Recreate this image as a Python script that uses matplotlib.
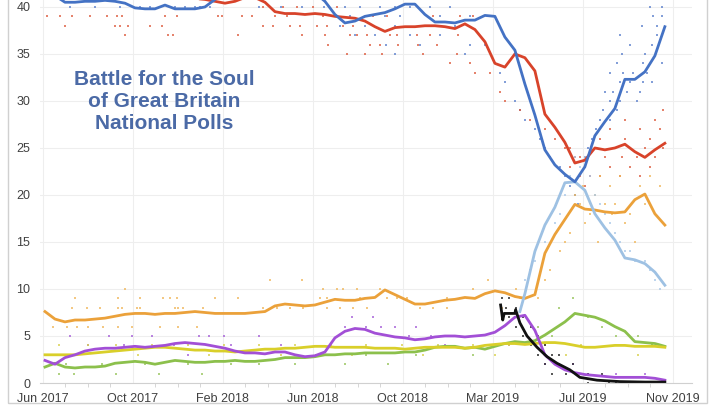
import numpy as np
import matplotlib
matplotlib.use("Agg")
import matplotlib.pyplot as plt
from matplotlib.patches import Rectangle

# fortnightly rolling averages, day 0 = 8 Jun 2017
days = np.arange(63) * 14

con = [42.5, 41.2, 40.5, 40.5, 40.6, 40.6, 40.7, 40.6, 40.4, 39.9,
       39.8, 39.8, 40.2, 39.8, 39.8, 39.8, 40.0, 40.8, 41.5, 42.0,
       42.2, 42.0, 42.3, 42.0, 42.0, 42.2, 42.0, 41.5, 40.6, 39.2,
       38.3, 38.5, 39.0, 39.2, 39.4, 39.8, 40.3, 40.3, 39.2, 38.4,
       38.4, 38.3, 38.6, 38.6, 39.1, 39.0, 36.8, 35.4, 31.8, 28.5,
       24.8, 23.2, 22.2, 21.4, 23.0, 26.3, 27.8, 29.2, 32.3, 32.3,
       33.1, 34.8, 37.9]
lab = [42.5, 42.0, 41.8, 41.5, 41.5, 41.3, 41.3, 41.5, 41.3, 41.2,
       41.0, 41.0, 41.2, 41.0, 41.0, 40.9, 40.8, 40.6, 40.4, 40.6,
       41.0, 41.0, 40.5, 39.5, 39.3, 39.3, 39.2, 39.3, 39.2, 39.0,
       38.9, 38.8, 38.5, 37.9, 37.4, 37.8, 37.9, 37.9, 38.0, 38.0,
       37.9, 37.7, 38.2, 37.6, 36.3, 34.0, 33.6, 35.0, 34.6, 33.2,
       28.6, 27.2, 25.6, 23.4, 23.7, 25.0, 24.8, 25.0, 25.4, 24.6,
       24.0, 24.8, 25.5]
ld = [7.6, 6.8, 6.5, 6.7, 6.7, 6.8, 6.9, 7.1, 7.3, 7.4,
      7.4, 7.3, 7.4, 7.4, 7.5, 7.6, 7.5, 7.4, 7.4, 7.4,
      7.4, 7.5, 7.6, 8.2, 8.4, 8.3, 8.2, 8.3, 8.6, 8.9,
      8.8, 8.8, 9.0, 9.1, 9.9, 9.4, 8.9, 8.4, 8.4, 8.6,
      8.8, 8.9, 9.1, 9.0, 9.5, 9.8, 9.6, 9.2, 9.0, 9.4,
      13.8, 15.8, 17.4, 19.0, 18.5, 18.4, 18.2, 18.1, 18.2, 19.5,
      20.1, 18.0, 16.8]
ukip = [2.4, 2.0, 2.7, 3.0, 3.4, 3.6, 3.7, 3.7, 3.8, 3.9,
        3.8, 3.9, 4.0, 4.2, 4.3, 4.2, 4.1, 3.9, 3.7, 3.4,
        3.2, 3.2, 3.1, 3.3, 3.3, 3.0, 2.8, 2.9, 3.3, 4.8,
        5.5, 5.8, 5.7, 5.3, 5.1, 4.9, 4.8, 4.6, 4.7, 4.9,
        5.0, 5.0, 4.9, 5.0, 5.1, 5.4, 6.1, 7.0, 7.2, 5.6,
        3.0, 2.0, 1.4, 1.1, 0.9, 0.8, 0.7, 0.6, 0.6, 0.6,
        0.6, 0.5, 0.3]
snp = [3.0, 3.0, 3.0, 3.0, 3.1, 3.2, 3.3, 3.4, 3.5, 3.6,
       3.7, 3.8, 3.8, 3.7, 3.6, 3.5, 3.5, 3.4, 3.4, 3.3,
       3.4, 3.5, 3.6, 3.6, 3.7, 3.7, 3.8, 3.9, 3.9, 3.8,
       3.8, 3.8, 3.8, 3.7, 3.7, 3.7, 3.6, 3.7, 3.8, 3.8,
       3.8, 3.8, 3.7, 3.8, 4.0, 4.1, 4.2, 4.2, 4.1, 4.2,
       4.3, 4.3, 4.2, 4.0, 3.8, 3.8, 3.9, 4.0, 4.0, 3.9,
       3.9, 3.9, 3.8]
grn = [1.7, 2.1, 1.7, 1.6, 1.7, 1.7, 1.8, 2.1, 2.2, 2.3,
       2.2, 2.0, 2.2, 2.4, 2.3, 2.2, 2.2, 2.3, 2.3, 2.4,
       2.3, 2.3, 2.4, 2.5, 2.7, 2.7, 2.7, 2.8, 3.0, 3.0,
       3.1, 3.1, 3.2, 3.2, 3.2, 3.2, 3.3, 3.3, 3.5, 3.8,
       3.9, 3.9, 3.7, 3.8, 3.6, 3.9, 4.2, 4.4, 4.3, 4.5,
       5.1, 5.8, 6.5, 7.4, 7.2, 7.0, 6.6, 6.0, 5.5, 4.4,
       4.3, 4.2, 3.9]

bxp_days = [665, 672, 686, 700, 714, 728, 742, 756, 770, 784, 798, 812, 826, 840, 854, 868]
bxp = [7.6, 9.5, 14.0, 16.8, 18.7, 21.3, 21.4, 20.5, 18.0, 16.5, 15.2, 13.3, 13.1, 12.7, 11.8, 10.4]

chuk_days = [638, 641, 643, 658, 659, 665, 675, 689, 703, 717, 735, 749, 773, 805, 840, 868]
chuk = [8.3, 6.7, 7.4, 7.4, 7.8, 6.4, 5.0, 3.8, 2.8, 2.1, 1.4, 0.6, 0.3, 0.15, 0.1, 0.1]

# individual polls (approximate)
con_pd = [35, 70, 105, 133, 147, 161, 182, 196, 210, 217, 231, 300, 330, 360, 390,
          420, 441, 469, 490, 511, 539, 567, 427, 476, 497, 553, 595, 413, 448, 490, 525, 574,
          434, 462, 511, 553, 477, 525, 595, 490, 588,
          616, 630, 644, 637, 658, 665, 672, 686, 693, 700, 707, 721, 728, 735, 742, 746,
          756, 760, 766, 771, 777, 791, 781, 801, 791, 805, 829, 784, 795, 815, 833,
          805, 819, 837, 850, 791, 809, 823, 843, 801, 837, 864, 808, 840, 819, 850,
          805, 857, 836, 857, 851, 864, 847, 864]
con_pv = [40] * 15 + [40] * 7 + [39] * 5 + [38] * 5 + [37] * 4 + [36] * 3 + [35] * 2 + \
         [36, 34, 32, 33, 30, 29, 28, 27, 26, 25, 24, 23, 22, 21, 20, 19,
          24, 25, 26, 27, 28, 28, 29, 29, 30, 30, 30, 31, 31, 31, 31,
          32, 32, 32, 32, 33, 33, 33, 33, 34, 34, 34, 35, 35, 36, 36,
          37, 37, 38, 38, 39, 39, 40, 40]
lab_pd = [3, 21, 38, 63, 87, 101, 108, 168, 185, 242, 248, 276, 290,
          28, 98, 105, 116, 147, 164, 112, 172, 179, 270,
          305, 333, 353, 375, 409,
          322, 339, 389, 451, 459, 479, 535, 543, 581, 599,
          305, 319, 343, 357, 381, 395, 417, 431,
          360, 392, 427, 437, 451, 483, 493, 521, 539, 578,
          396, 455, 469, 494, 522, 549, 423, 448, 472, 529, 577, 567, 595,
          602, 623, 637, 644, 665, 679, 700, 714, 728, 735, 742, 749, 735, 756,
          749, 763, 777, 756,
          791, 833, 861, 777, 812, 847, 770, 798, 819, 840, 865,
          784, 808, 829, 854, 791, 819, 847, 805, 833, 812, 854, 865]
lab_pv = [39] * 13 + [38] * 6 + [37] * 4 + [40] * 5 + [39] * 10 + [38] * 8 + [37] * 10 + \
         [36] * 6 + [35] * 5 + [34] * 2 + \
         [33, 33, 31, 30, 29, 28, 27, 26, 25, 25, 24, 24, 23, 23,
          22, 22, 22, 21,
          27, 27, 27, 26, 26, 26, 25, 25, 25, 25, 25,
          24, 24, 24, 24, 23, 23, 23, 22, 22, 28, 28, 29]
ld_pd = [112, 42, 102, 133, 165, 175, 185, 238, 270,
         38, 59, 77, 102, 108, 129, 133, 182, 186, 193, 221,
         11, 31, 45, 60, 81, 102, 122, 161, 186, 213,
         315, 360, 389, 409, 417, 437, 469,
         385, 395, 441, 459, 479, 493, 507, 563, 581,
         305, 325, 343, 361, 395, 413, 431, 451, 525, 543, 563,
         600, 620, 640, 660, 690,
         707, 700, 721, 728, 735, 742, 749, 753, 756, 763, 770, 774, 777, 784,
         791, 794, 798, 805, 812, 819, 826, 833, 840, 847, 854, 861]
ld_pv = [10] + [9] * 8 + [8] * 11 + [6] * 10 + [11, 11, 10, 10, 10, 10, 10] + [9] * 9 + [8] * 11 + \
        [10, 11, 8, 10, 9] + \
        [12, 11, 14, 15, 16, 20, 19, 21, 17, 18, 20, 15, 22, 19,
         21, 18, 19, 22, 17, 18, 15, 21, 19, 22, 18, 21]
bxp_pd = [742, 756, 749, 735, 763, 728, 770, 777, 721, 784, 714, 791,
          798, 700, 805, 812, 819, 686, 826, 840, 679, 847, 672, 854, 861, 665]
bxp_pv = [24, 24, 23, 22, 22, 20, 20, 19, 18, 18, 17, 17,
          16, 15, 15, 14, 14, 13, 13, 13, 12, 12, 11, 11, 10, 9]
ukip_pd = [35, 90, 122, 150, 215, 230, 250, 300, 60, 110, 180, 260, 330, 20, 200, 350, 380,
           420, 450, 470, 490, 520, 430, 460, 640, 510, 540, 580, 600, 560, 620, 650,
           760, 800, 840, 700, 740]
ukip_pv = [5] * 8 + [4] * 5 + [3] * 4 + [6] * 5 + [7] * 3 + [5] * 4 + [4] * 3 + [1] * 3 + [2] * 2
snp_pd = [20, 60, 100, 150, 200, 250, 300, 350, 400, 450, 500, 550, 600, 650, 700, 750, 800, 850,
          45, 130, 230, 330, 430, 530, 630, 730, 830]
snp_pv = [4] * 18 + [3] * 9
grn_pd = [20, 40, 100, 160, 220, 30, 80, 140, 200, 260, 300, 350, 420, 480,
          380, 450, 520, 600, 720, 740, 760, 780, 800, 830, 850, 690, 710]
grn_pv = [1] * 5 + [2] * 9 + [3] * 4 + [8, 9, 7, 6, 5, 5, 4, 6, 5]
chuk_pd = [640, 650, 645, 660, 650, 670, 660, 680, 670, 690, 680, 700, 690, 710, 720,
           700, 720, 740, 710, 730, 760, 780, 760, 790, 820, 850, 800, 835, 865]
chuk_pv = [9, 9, 8, 8, 7, 7, 6, 6, 5, 5, 4, 4, 3, 3, 3, 2, 2, 2, 1, 1, 1, 1, 0, 0, 0, 0, 0, 0, 0]

tick_days = [-3, 123, 249, 375, 501, 627, 753, 879]
tick_lbls = ["Jun 2017", "Oct 2017", "Feb 2018", "Jun 2018", "Oct 2018", "Mar 2019", "Jul 2019", "Nov 2019"]

plt.rcParams['font.family'] = ['Liberation Sans', 'DejaVu Sans']

fig = plt.figure(figsize=(7.2, 4.05), dpi=100)
ax = fig.add_axes([40 / 720, 22 / 405, 652 / 720, 383 / 405])

dots = [(con_pd, con_pv, '#5b7fcc'), (lab_pd, lab_pv, '#dd5a3c'), (ld_pd, ld_pv, '#f0b65a'),
        (bxp_pd, bxp_pv, '#a9c8e8'), (ukip_pd, ukip_pv, '#a55ed8'), (snp_pd, snp_pv, '#d8d04a'),
        (grn_pd, grn_pv, '#96c45a'), (chuk_pd, chuk_pv, '#222222')]
for d, v, c in dots:
    ax.plot(d, v, ls='none', marker='s', ms=1.6, mew=0, color=c, alpha=0.75)

lw = 2.0
ax.plot(days, grn, color='#8cc04c', lw=lw)
ax.plot(days, snp, color='#d9cf2a', lw=lw)
ax.plot(days, ukip, color='#a24fd6', lw=lw)
ax.plot(days, ld, color='#eba13a', lw=lw)
ax.plot(bxp_days, bxp, color='#9ec1e3', lw=lw)
ax.plot(chuk_days, chuk, color='#111111', lw=lw)
ax.plot(days, lab, color='#d8432a', lw=lw)
ax.plot(days, con, color='#4472c4', lw=lw)

ax.set_xlim(-7, 906)
ax.set_ylim(0, 40.74)
ax.set_yticks(range(0, 41, 5))
ax.set_xticks(tick_days)
ax.set_xticklabels(tick_lbls)
ax.set_xticks(np.arange(-3, 900, 31.5), minor=True)
ax.tick_params(axis='both', labelsize=9, colors='#404040', length=0, pad=7)
ax.tick_params(axis='x', which='minor', length=3, color='#d0d0d0')
ax.grid(True, color='#eeeeee', lw=0.8)
ax.set_axisbelow(True)
for s in ['top', 'right', 'left']:
    ax.spines[s].set_visible(False)
ax.spines['bottom'].set_color('#d0d0d0')

ax.text(0.19, 0.735, "Battle for the Soul\nof Great Britain\nNational Polls", transform=ax.transAxes,
        ha='center', va='center', multialignment='center', fontsize=15, fontweight='bold',
        color='#4b6aa6')

fig.patches.append(Rectangle((8 / 720, 2 / 405), 699 / 720, 1.1, transform=fig.transFigure,
                             fill=False, ec='#d0d0d0', lw=1))

fig.savefig('out.png', dpi=100)
